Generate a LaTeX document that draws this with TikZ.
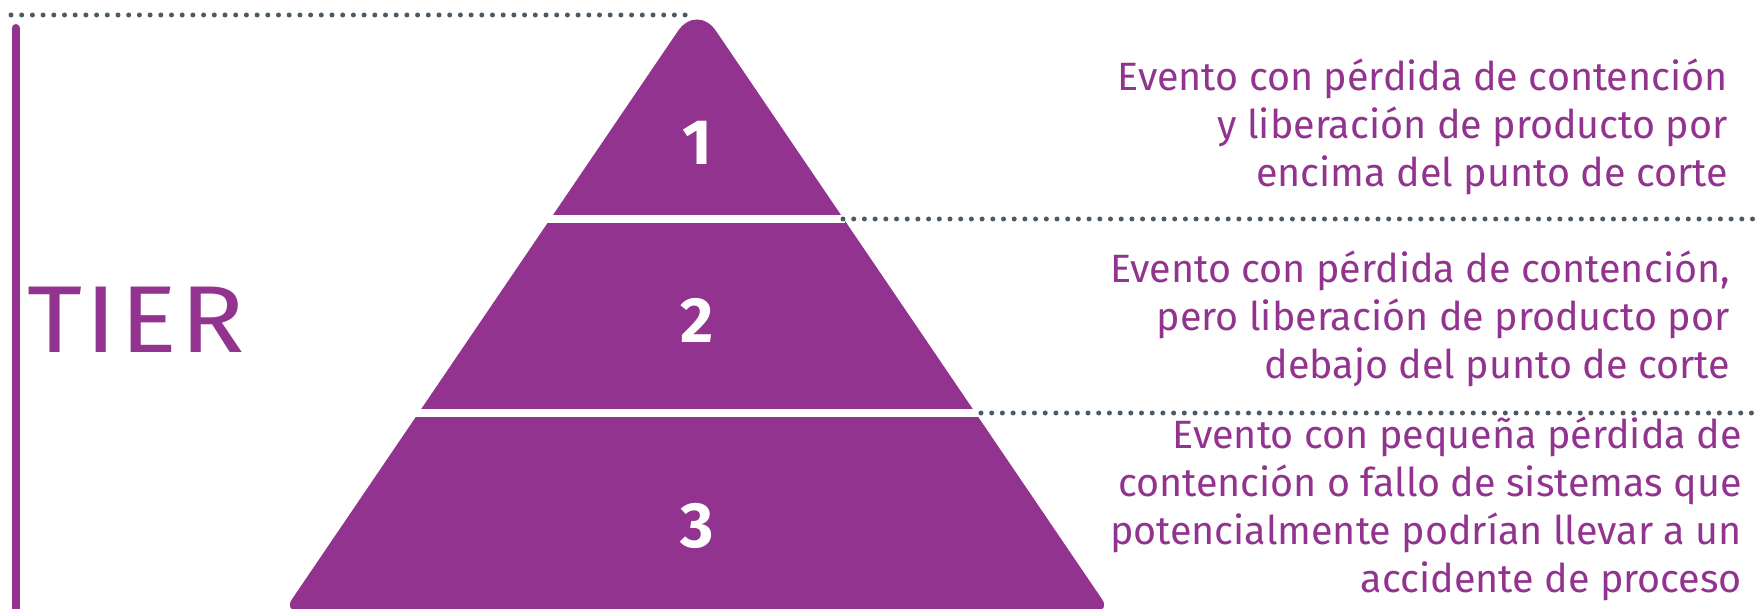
\documentclass[tikz,border=0pt]{standalone}
\usepackage{fontspec}
\setmainfont{Fira Sans}
\newfontfamily\tierfont{Fira Sans}[LetterSpace=3]
\definecolor{pur}{HTML}{92338F}
\definecolor{dotc}{HTML}{4A5A66}
\begin{document}
\begin{tikzpicture}[x=1pt,y=-1pt,
  dotline/.style={dotc, line width=5, line cap=round, dash pattern=on 0pt off 10.7pt},
  desc/.style={pur, align=right, font=\fontsize{39.5}{48}\selectfont, inner sep=0, anchor=east},
  num/.style={white, font=\fontsize{64}{64}\selectfont\bfseries, inner sep=0},
  sep/.style={white, line width=8}]
\useasboundingbox (0,0) rectangle (1762,609);
% pyramid
\coordinate (apex) at (697,3);
\coordinate (bl) at (284,611);
\coordinate (br) at (1110,611);
\coordinate (bm) at (697,611);
\fill[pur, rounded corners=14] (bm) -- (bl) [rounded corners=34] -- (apex) [rounded corners=14] -- (br) -- cycle;
% separators
\coordinate (s1l) at (530,219);
\coordinate (s1r) at (845,219);
\coordinate (s2l) at (400,413);
\coordinate (s2r) at (980,413);
\draw[sep] (s1l) -- (s1r);
\draw[sep] (s2l) -- (s2r);
% dotted lines
\coordinate (t0) at (11,15);
\coordinate (t1) at (688,15);
\coordinate (d1a) at (843,219);
\coordinate (d1b) at (1762,219);
\coordinate (d2a) at (981,413);
\coordinate (d2b) at (1762,413);
\draw[dotline] (t0) -- (t1);
\draw[dotline] (d1a) -- (d1b);
\draw[dotline] (d2a) -- (d2b);
% vertical bar
\coordinate (v0) at (15.5,28);
\coordinate (v1) at (15.5,640);
\draw[pur, line width=8, line cap=round] (v0) -- (v1);
% labels
\node[pur, font=\fontsize{95}{95}\tierfont, inner sep=0, xscale=1.12] (tier) at (136,320) {TIER};
\node[num] (n1) at (697,143) {1};
\node[num] (n2) at (697,320) {2};
\node[num] (n3) at (697,526) {3};
\node[desc] (t1txt) at (1728,127) {Evento con pérdida de contención\\y liberación de producto por\\encima del punto de corte};
\node[desc] (t2txt) at (1730,319) {Evento con pérdida de contención,\\pero liberación de producto por\\debajo del punto de corte};
\node[desc] (t3txt) at (1742,509) {Evento con pequeña pérdida de\\contención o fallo de sistemas que\\potencialmente podrían llevar a un\\accidente de proceso};
\end{tikzpicture}
\end{document}
